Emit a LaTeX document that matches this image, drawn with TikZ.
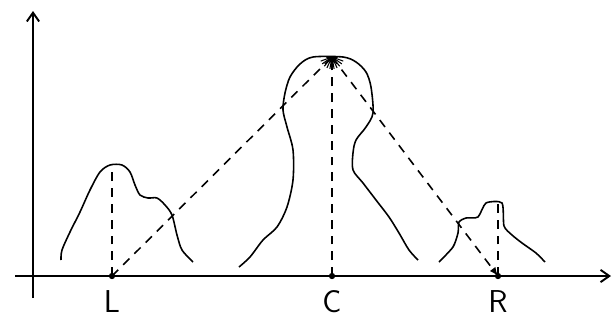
\documentclass[tikz,border=0pt]{standalone}
\usepackage{tikz}
\usetikzlibrary{arrows.meta}

\begin{document}
\begin{tikzpicture}[x=0.02cm, y=-0.02cm, >={Straight Barb[length=5pt,width=7pt]},
    axis/.style={line width=1.1pt},
    hill/.style={line width=0.9pt, line join=round},
    guide/.style={line width=0.9pt, dash pattern=on 5pt off 4pt},
    lbl/.style={font=\sffamily\fontsize{18}{20}\selectfont, inner sep=0pt}]
    \useasboundingbox (0,0) rectangle (613,325);

    % axes
    \coordinate (xs) at (15,276);
    \coordinate (xe) at (611,276);
    \coordinate (ys) at (33,298);
    \coordinate (ye) at (33,11);
    \draw[axis, ->] (xs) -- (xe);
    \draw[axis, ->] (ys) -- (ye);

    % points on the axis and tops of the hills
    \coordinate (L) at (112,276);
    \coordinate (C) at (332,276);
    \coordinate (R) at (498,276);
    \coordinate (Ltop) at (112,166);
    \coordinate (Ctop) at (332,57);
    \coordinate (Rtop) at (498,204);

    \foreach \p in {L, C, R}
        \fill (\p) circle[radius=1.8pt];

    \node[lbl] (Llabel) at (112,302) {L};
    \node[lbl] (Clabel) at (332,302) {C};
    \node[lbl] (Rlabel) at (498,302) {R};

    % left hill
    \draw[hill] plot[smooth, tension=0.5] coordinates {(61,260) (62,250) (70,232) (80,212)
        (90,190) (100,172) (110,165) (122,165) (130,172) (135,185) (140,195) (148,198)
        (157,198) (165,205) (172,215) (177,235) (182,250) (193,262)};

    % central hill
    \draw[hill] plot[smooth, tension=0.5] coordinates {(239,267) (250,257) (263,240) (277,227)
        (287,207) (293,180) (293,150) (287,127) (283,110) (285,93) (290,77) (300,64)
        (313,57) (343,57) (356,62) (366,72) (371,87) (373,113) (366,127) (356,140)
        (353,153) (353,170) (363,183) (376,200) (389,217) (399,233) (409,250) (418,260)};

    % right hill
    \draw[hill] plot[smooth, tension=0.4] coordinates {(439,262) (453,247) (458,233) (459,222)
        (466,218) (478,217) (486,203) (502,203) (504,226) (512,235) (522,243) (536,253)
        (545,262)};

    % rays at the top
    \foreach \a in {20,35,50,65,80,100,115,130,145,160}
        \draw[line width=0.6pt] (Ctop) -- ++(\a:12);
    \fill (Ctop) ++(-6,0) -- ++(12,0) -- ++(-6,7) -- cycle;

    % dashed guides
    \draw[guide] (L) -- (Ltop);
    \draw[guide] (C) -- (Ctop);
    \draw[guide] (R) -- (Rtop);
    \draw[guide] (L) -- (Ctop);
    \draw[guide, -{Latex[length=5pt,width=4pt]}] (Ctop) -- (R);
\end{tikzpicture}
\end{document}
